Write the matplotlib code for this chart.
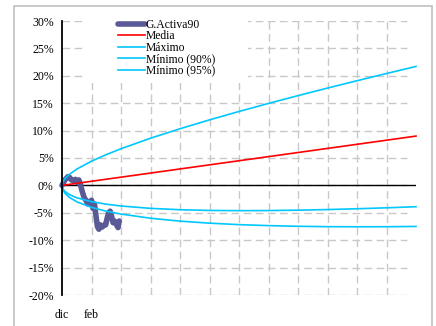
import matplotlib
matplotlib.use("Agg")
import matplotlib.pyplot as plt
from matplotlib.patches import Rectangle

plt.rcParams['font.family'] = ['Liberation Serif', 'DejaVu Serif']

# ---- data (months since "dic", percent) ----
x_activa = [0.00, 0.10, 0.20, 0.25, 0.32, 0.40, 0.45, 0.52, 0.57, 0.62, 0.68, 0.75,
            0.82, 0.88, 0.95, 1.00, 1.05, 1.10, 1.15, 1.20, 1.25, 1.30, 1.36, 1.42,
            1.48, 1.53, 1.58, 1.63, 1.68, 1.73, 1.78, 1.85, 1.90, 1.94]
y_activa = [0.0, 1.0, 1.6, 1.5, 1.0, 0.8, 1.1, 0.5, 1.0, 0.3, -1.0, -2.2,
            -2.8, -3.4, -3.0, -2.7, -4.2, -3.4, -5.5, -7.5, -8.0, -7.2, -7.6, -7.3,
            -7.2, -6.0, -5.0, -4.7, -5.6, -6.8, -6.5, -7.2, -7.7, -6.5]

x_proj = [0, 0.03, 0.1, 0.25, 0.5, 1, 1.5, 2, 3, 4, 5, 6, 7, 8, 9, 10, 11, 12]
y_media = [0.0, 0.02, 0.08, 0.19, 0.38, 0.75, 1.13, 1.5, 2.25, 3.0, 3.75, 4.5,
           5.25, 6.0, 6.75, 7.5, 8.25, 9.0]
y_max = [0.0, 0.66, 1.24, 2.02, 2.97, 4.42, 5.62, 6.69, 8.61, 10.34, 11.96, 13.49,
         14.96, 16.38, 17.76, 19.1, 20.42, 21.71]
y_min90 = [0.0, -0.62, -1.10, -1.67, -2.26, -2.97, -3.43, -3.76, -4.19, -4.44, -4.57,
           -4.61, -4.59, -4.52, -4.41, -4.26, -4.09, -3.89]
y_min95 = [0.0, -0.80, -1.43, -2.19, -2.99, -4.01, -4.71, -5.23, -5.99, -6.52, -6.89,
           -7.16, -7.34, -7.46, -7.53, -7.55, -7.54, -7.49]

y_ticks = [-20, -15, -10, -5, 0, 5, 10, 15, 20, 25, 30]
x_ticks = [0, 1]
x_ticklabels = ["dic", "feb"]
labels = ["G.Activa90", "Media", "Máximo", "Mínimo (90%)", "Mínimo (95%)"]

# ---- figure ----
W, H = 436, 326
fig = plt.figure(figsize=(W / 100, H / 100), dpi=100)
fig.patches.append(Rectangle((14 / W, -0.05), (432 - 14) / W, 1.05 - 6 / H,
                             transform=fig.transFigure, fill=False,
                             edgecolor="#c0c0c0", linewidth=1.2))

ax = fig.add_axes([62 / W, 1 - 295 / H, (416 - 62) / W, (295 - 21) / H])
ax.set_xlim(0, 12)
ax.set_ylim(-20, 30)

grid_kw = dict(color="#c8c8c8", linewidth=1.0, linestyle=(0, (5.5, 3.2)), zorder=1)
ax.hlines(y_ticks, 0, 11.7, **grid_kw)
ax.vlines(range(1, 12), -20, 30, **grid_kw)

# white area behind legend (covers grid)
ax.add_patch(Rectangle((85 / W, 1 - 83 / H), (248 - 85) / W, (83 - 12) / H,
                       transform=fig.transFigure, facecolor="white",
                       edgecolor="none", zorder=2))

ax.axhline(0, color="black", linewidth=1.0, zorder=3)

l1, = ax.plot(x_activa, y_activa, color="#5a5a96", linewidth=4.0, zorder=4,
              solid_joinstyle="round", solid_capstyle="round", clip_on=False)
l2, = ax.plot(x_proj, y_media, color="#ff0000", linewidth=1.2, zorder=5, clip_on=False)
l3, = ax.plot(x_proj, y_max, color="#00c8ff", linewidth=1.2, zorder=5, clip_on=False)
l4, = ax.plot(x_proj, y_min90, color="#00c8ff", linewidth=1.2, zorder=5, clip_on=False)
l5, = ax.plot(x_proj, y_min95, color="#00c8ff", linewidth=1.2, zorder=5, clip_on=False)

for s in ["top", "right", "bottom"]:
    ax.spines[s].set_visible(False)
ax.spines["left"].set_color("black")
ax.spines["left"].set_linewidth(1.3)
ax.spines["left"].set_zorder(6)

ax.set_yticks(y_ticks)
ax.set_yticklabels([f"{v}%" for v in y_ticks], fontsize=8.5)
ax.set_xticks(x_ticks)
ax.set_xticklabels(x_ticklabels, fontsize=8.5)
ax.tick_params(axis="y", length=0, pad=6)
ax.tick_params(axis="x", length=0, pad=10)

leg = fig.legend([l1, l2, l3, l4, l5], labels, loc="upper left",
                 bbox_to_anchor=(118 / W, 1 - 19 / H), bbox_transform=fig.transFigure,
                 frameon=False, fontsize=8.4, borderpad=0, borderaxespad=0,
                 handlelength=2.3, handletextpad=0.1, labelspacing=-0.05)
leg.set_zorder(10)

fig.savefig("out.png", dpi=100)
